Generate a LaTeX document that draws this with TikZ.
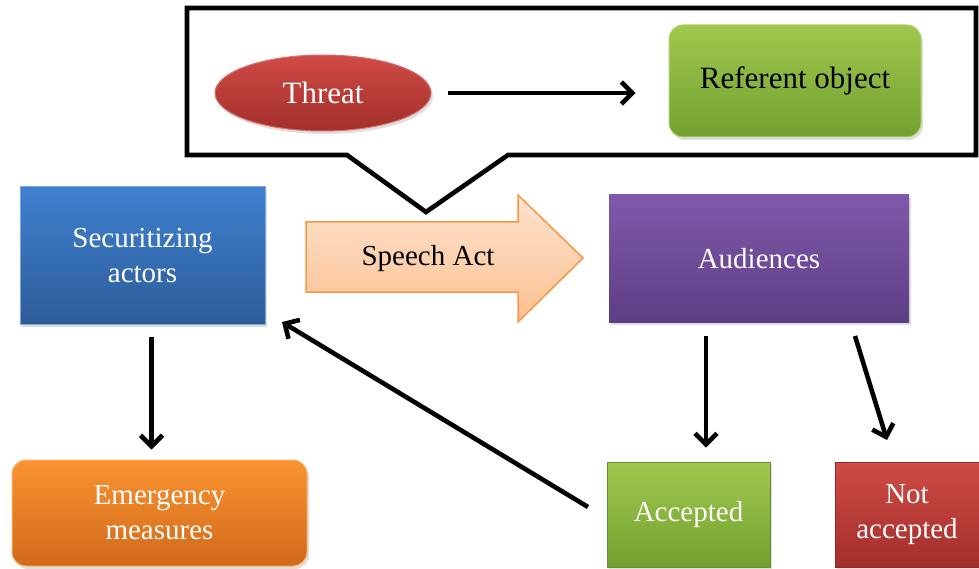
\documentclass[tikz,border=0pt]{standalone}
\usepackage{fontspec}
\setmainfont{Liberation Serif}
\usetikzlibrary{arrows.meta,shadows,shapes.geometric}
\definecolor{redT}{HTML}{D04B46}
\definecolor{redB}{HTML}{A22E2A}
\definecolor{grnT}{HTML}{A0C84E}
\definecolor{grnB}{HTML}{72A030}
\definecolor{bluT}{HTML}{3F81D0}
\definecolor{bluB}{HTML}{2D5C98}
\definecolor{purT}{HTML}{8059AA}
\definecolor{purB}{HTML}{5D3E85}
\definecolor{orgT}{HTML}{FA9330}
\definecolor{orgB}{HTML}{D06A1B}
\definecolor{pchT}{HTML}{FDE3CE}
\definecolor{pchB}{HTML}{FBC090}
\definecolor{pchE}{HTML}{F79646}
\tikzset{
  box/.style={inner sep=0pt, align=center, font=\fontsize{29}{35}\selectfont,
     drop shadow={shadow xshift=2pt, shadow yshift=-3pt, opacity=0.25}},
  conn/.style={line width=4.6pt, -{Straight Barb[length=11pt,width=22pt,line width=4.6pt]}},
}
\begin{document}
\begin{tikzpicture}[x=1pt,y=-1pt]
\useasboundingbox (0,0) rectangle (979,569);
% callout
\draw[line width=4.6pt, line join=miter] (187,8) -- (976,8) -- (976,155) -- (508,155) -- (426,212) -- (347,155) -- (187,155) -- cycle;
% threat & referent
\node[box, ellipse, minimum width=216pt, minimum height=76pt, top color=redT, bottom color=redB, draw=redT!80!white, line width=1pt, text=white, font=\fontsize{31}{35}\selectfont] (threat) at (323,93) {Threat};
\node[box, rounded corners=14pt, minimum width=252pt, minimum height=112pt, top color=grnT, bottom color=grnB, draw=grnT!80!white, line width=1pt, font=\fontsize{31}{35}\selectfont] (ref) at (795,81) {Referent object};
\draw[conn, shorten <=16pt, shorten >=33pt] (threat.east) -- (threat.east -| ref.west);
% speech act arrow
\draw[draw=pchE, line width=1.5pt, top color=pchT, bottom color=pchB, line join=miter]
  (306,222) -- (518,222) -- (518,195) -- (583,258) -- (518,322) -- (518,292) -- (306,292) -- cycle;
\node[inner sep=0pt, font=\fontsize{29}{35}\selectfont] (speech) at (428,259) {Speech Act};
% main boxes
\node[box, minimum width=245pt, minimum height=137pt, top color=bluT, bottom color=bluB, draw=bluT!70!white, line width=1pt, text=white] (sec) at (142.5,255.5) {Securitizing\\actors};
\node[box, minimum width=300pt, minimum height=127pt, top color=purT, bottom color=purB, text=white] (aud) at (759,258.5) {Audiences};
\node[box, rounded corners=14pt, minimum width=295pt, minimum height=106pt, top color=orgT, bottom color=orgB, draw=orgT!70!white, line width=1pt, text=white] (emg) at (159.5,513) {Emergency\\measures};
\node[box, minimum width=163pt, minimum height=105pt, top color=grnT, bottom color=grnB, draw=grnB!90!black, line width=0.8pt, text=white] (acc) at (688.5,514.5) {Accepted};
\node[box, minimum width=144pt, minimum height=105pt, top color=redT, bottom color=redB, draw=redB!90!black, line width=0.8pt, text=white] (nacc) at (907,514.5) {Not\\accepted};
% connectors
\draw[conn, shorten <=12pt, shorten >=10pt] ([xshift=9pt]sec.south) -- ([xshift=9pt]sec.south |- emg.north);
\draw[conn, shorten <=14pt, shorten >=14pt] ([xshift=-53pt]aud.south) -- ([xshift=-53pt]aud.south |- acc.north);
\coordinate (a3s) at (855,336);
\coordinate (a3e) at (887,440);
\draw[conn] (a3s) -- (a3e);
\coordinate (a4s) at (588,507);
\coordinate (a4e) at (282,322);
\draw[conn] (a4s) -- (a4e);
\end{tikzpicture}
\end{document}
